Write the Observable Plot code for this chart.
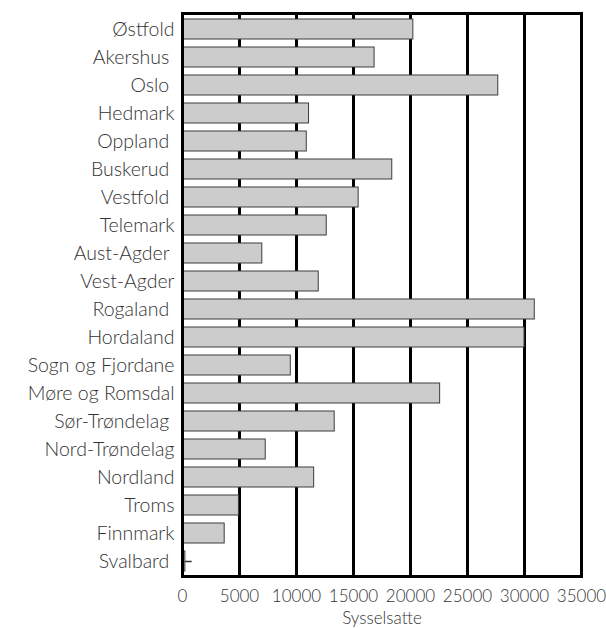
<!DOCTYPE html>
<html>
<head>
<meta charset="utf-8">
<script src="https://cdn.jsdelivr.net/npm/d3@7"></script>
<script src="https://cdn.jsdelivr.net/npm/@observablehq/plot@0.6"></script>
<style>
  html, body { margin: 0; padding: 0; background: #fff; }
  svg text { font-weight: 300; }
  svg [aria-label^="x-axis"] { font-size: 17px; }
  svg [aria-label^="y-axis"] { font-size: 19.5px; }
</style>
</head>
<body>
<div id="chart"></div>
<script>
const regions = ["Østfold", "Akershus", "Oslo", "Hedmark", "Oppland", "Buskerud", "Vestfold",
  "Telemark", "Aust-Agder", "Vest-Agder", "Rogaland", "Hordaland", "Sogn og Fjordane",
  "Møre og Romsdal", "Sør-Trøndelag", "Nord-Trøndelag", "Nordland", "Troms", "Finnmark", "Svalbard"];
const employed = [20250, 16850, 27700, 11100, 10900, 18400, 15450, 12650, 7000, 11950,
  30900, 30000, 9500, 22600, 13350, 7300, 11550, 4950, 3700, 250];
const paddedLabels = ["Akershus", "Oslo", "Oppland", "Buskerud", "Vestfold", "Aust-Agder",
  "Rogaland", "Sør-Trøndelag", "Svalbard"];
const whiskerRegion = ["Svalbard"];
const whiskerFrom = [250];
const whiskerTo = [850];
const xTicks = [0, 5000, 10000, 15000, 20000, 25000, 30000, 35000];
const xTitle = ["Sysselsatte"];

const data = regions.map((r, i) => ({region: r, value: employed[i]}));
const whisker = whiskerRegion.map((r, i) => ({region: r, from: whiskerFrom[i], to: whiskerTo[i]}));

const chart = Plot.plot({
  width: 606,
  height: 628,
  marginLeft: 182,
  marginRight: 25,
  marginTop: 13,
  marginBottom: 52,
  style: {fontFamily: "Lato, 'Open Sans', sans-serif", fontSize: "18px", color: "#333", background: "#fff"},
  x: {domain: [0, 35000], ticks: xTicks, tickSize: 0, tickPadding: 13, label: null, tickFormat: d => String(d)},
  y: {domain: regions, paddingInner: 0.29, paddingOuter: 0.14, tickSize: 0, tickPadding: 8, label: null,
      tickFormat: d => paddedLabels.includes(d) ? d + "\u00a0" : d},
  marks: [
    Plot.ruleX(xTicks, {stroke: "black", strokeWidth: 3}),
    Plot.barX(data, {x: "value", y: "region", fill: "#cccccc", stroke: "#3c3c3c", strokeWidth: 1}),
    Plot.ruleY(whisker, {y: "region", x1: "from", x2: "to", stroke: "#333", strokeWidth: 1.5}),
    Plot.frame({stroke: "black", strokeWidth: 3}),
    Plot.text(xTitle, {text: d => d, frameAnchor: "bottom", dy: 47, fontSize: 17, fill: "#333"})
  ]
});
document.getElementById("chart").appendChild(chart);
</script>
</body>
</html>
